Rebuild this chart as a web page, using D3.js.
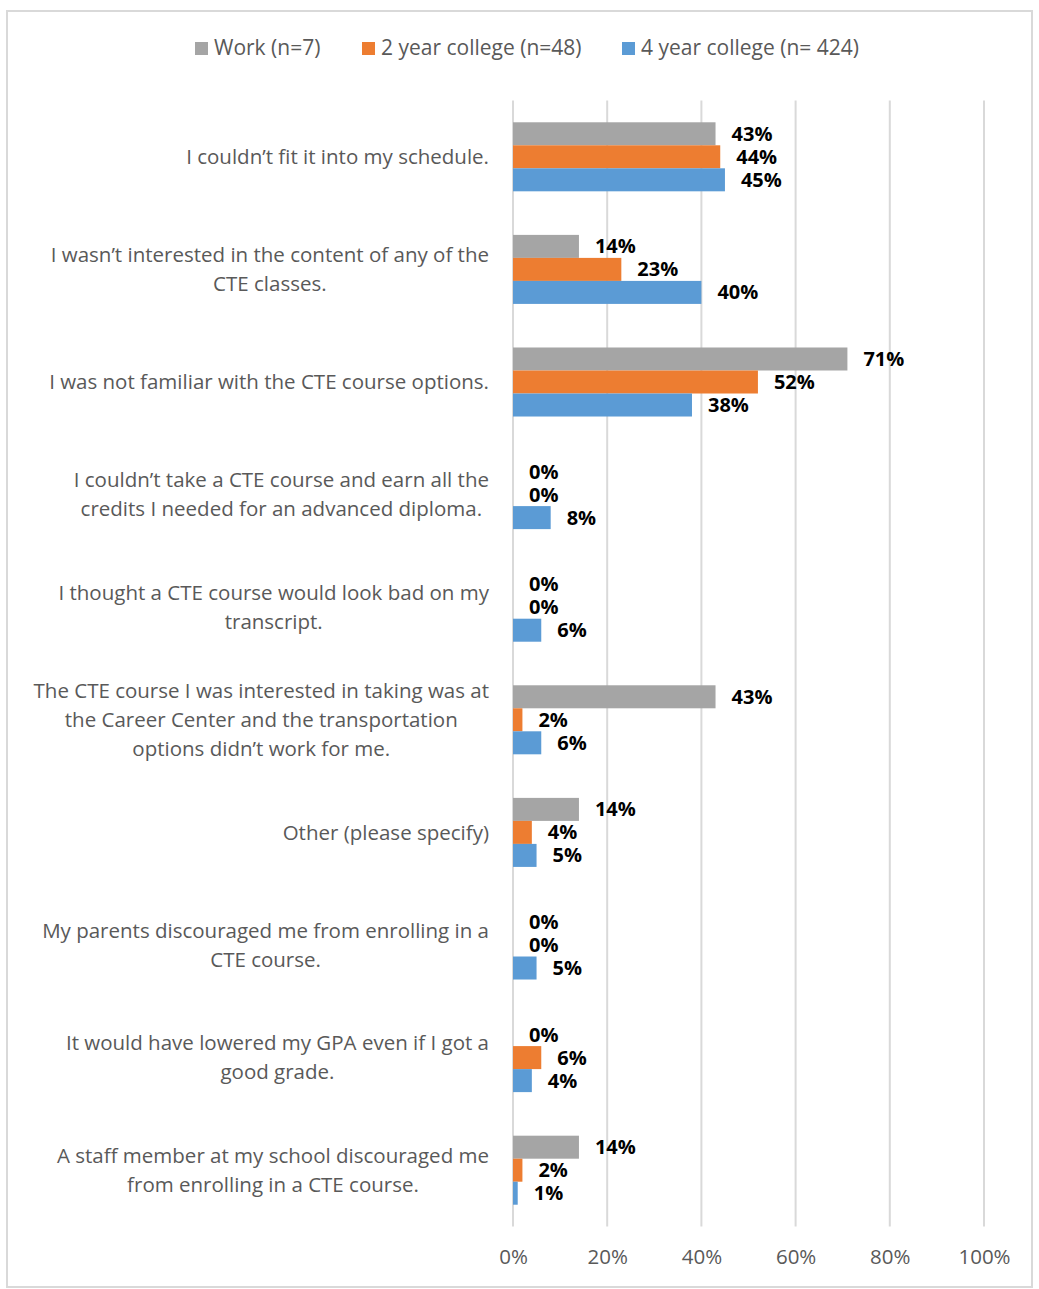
<!DOCTYPE html>
<html>
<head>
<meta charset="utf-8">
<script src="https://cdn.jsdelivr.net/npm/d3@7"></script>
<style>
  html, body { margin: 0; padding: 0; background: #fff; }
  svg { display: block; }
</style>
</head>
<body>
<svg id="chart" width="1039" height="1289"></svg>
<script>
// Reasons students gave for not taking a CTE course, by post-graduation plan
const categories = [
  ["I couldn\u2019t fit it into my schedule."],
  ["I wasn\u2019t interested in the content of any of the", "CTE classes."],
  ["I was not familiar with the CTE course options."],
  ["I couldn\u2019t take a CTE course and earn all the", "credits I needed for an advanced diploma."],
  ["I thought a CTE course would look bad on my", "transcript."],
  ["The CTE course I was interested in taking was at", "the Career Center and the transportation", "options didn\u2019t work for me."],
  ["Other (please specify)"],
  ["My parents discouraged me from enrolling in a", "CTE course."],
  ["It would have lowered my GPA even if I got a", "good grade."],
  ["A staff member at my school discouraged me", "from enrolling in a CTE course."]
];
const seriesNames = ["Work (n=7)", "2 year college (n=48)", "4 year college (n= 424)"];
const workValues    = [43, 14, 71, 0, 0, 43, 14, 0, 0, 14];
const twoYearValues = [44, 23, 52, 0, 0, 2, 4, 0, 6, 2];
const fourYearValues = [45, 40, 38, 8, 6, 6, 5, 5, 4, 1];
const seriesValues = [workValues, twoYearValues, fourYearValues];
const colors = ["#a5a5a5", "#ed7d31", "#5b9bd5"];
const xTicks = [0, 20, 40, 60, 80, 100];

const svg = d3.select("#chart");
const font = "'Open Sans', 'Noto Sans', sans-serif";
const textColor = "#595959";

// outer frame
svg.append("rect")
  .attr("x", 7).attr("y", 11).attr("width", 1025).attr("height", 1276)
  .attr("fill", "#fff").attr("stroke", "#d9d9d9").attr("stroke-width", 2);

const plot = { left: 513, right: 984, top: 100.5, bottom: 1226.5 };

const x = d3.scaleLinear().domain([0, 100]).range([plot.left, plot.right]);
const y = d3.scaleBand().domain(d3.range(categories.length))
  .range([plot.top, plot.bottom]).paddingInner(0.387).paddingOuter(0.1935);
const ySub = d3.scaleBand().domain(d3.range(3)).range([0, y.bandwidth()]);

// vertical gridlines
svg.append("g").selectAll("line").data(xTicks).join("line")
  .attr("x1", d => x(d)).attr("x2", d => x(d))
  .attr("y1", plot.top).attr("y2", plot.bottom)
  .attr("stroke", "#d9d9d9").attr("stroke-width", 2);

// bars and value labels
const groups = svg.append("g").selectAll("g").data(categories).join("g")
  .attr("transform", (d, i) => `translate(0,${y(i)})`);

seriesValues.forEach((vals, s) => {
  groups.append("rect")
    .attr("x", x(0))
    .attr("y", ySub(s))
    .attr("width", (d, i) => x(vals[i]) - x(0))
    .attr("height", ySub.bandwidth())
    .attr("fill", colors[s]);
  groups.append("text")
    .attr("x", (d, i) => x(vals[i]) + 16)
    .attr("y", ySub(s) + ySub.bandwidth() / 2)
    .attr("dy", "0.35em")
    .attr("font-family", font).attr("font-size", 20).attr("font-weight", "bold")
    .attr("fill", "#000")
    .text((d, i) => vals[i] + "%");
});

// category labels: lines centred within a block that is right-aligned to the axis
const lineH = 29;
const labelRight = 489;
groups.append("text")
  .attr("text-anchor", "middle")
  .attr("font-family", font).attr("font-size", 20.5).attr("fill", textColor)
  .each(function(lines) {
    const t = d3.select(this);
    const start = y.bandwidth() / 2 - (lines.length - 1) * lineH / 2;
    const spans = lines.map((ln, k) =>
      t.append("tspan").attr("y", start + k * lineH).attr("dy", "0.35em").text(ln));
    const maxW = d3.max(spans, sp => sp.node().getComputedTextLength());
    spans.forEach(sp => sp.attr("x", labelRight - maxW / 2));
  });

// x axis tick labels
const xAxis = d3.axisBottom(x).tickValues(xTicks).tickSize(0).tickPadding(0)
  .tickFormat(d => d + "%");
const ax = svg.append("g").attr("transform", `translate(0,1257)`).call(xAxis);
ax.select(".domain").remove();
ax.selectAll("text").attr("dy", "0.35em").attr("y", 0)
  .attr("font-family", font).attr("font-size", 20.5).attr("fill", textColor);

// legend
const legendX = [195, 362, 622];
const legend = svg.append("g").selectAll("g").data(seriesNames).join("g")
  .attr("transform", (d, i) => `translate(${legendX[i]},48)`);
legend.append("rect").attr("x", 0).attr("y", -6).attr("width", 13).attr("height", 13)
  .attr("fill", (d, i) => colors[i]);
legend.append("text").attr("x", 19).attr("y", 0).attr("dy", "0.35em")
  .attr("font-family", font).attr("font-size", 21).attr("fill", textColor)
  .text(d => d);
</script>
</body>
</html>
